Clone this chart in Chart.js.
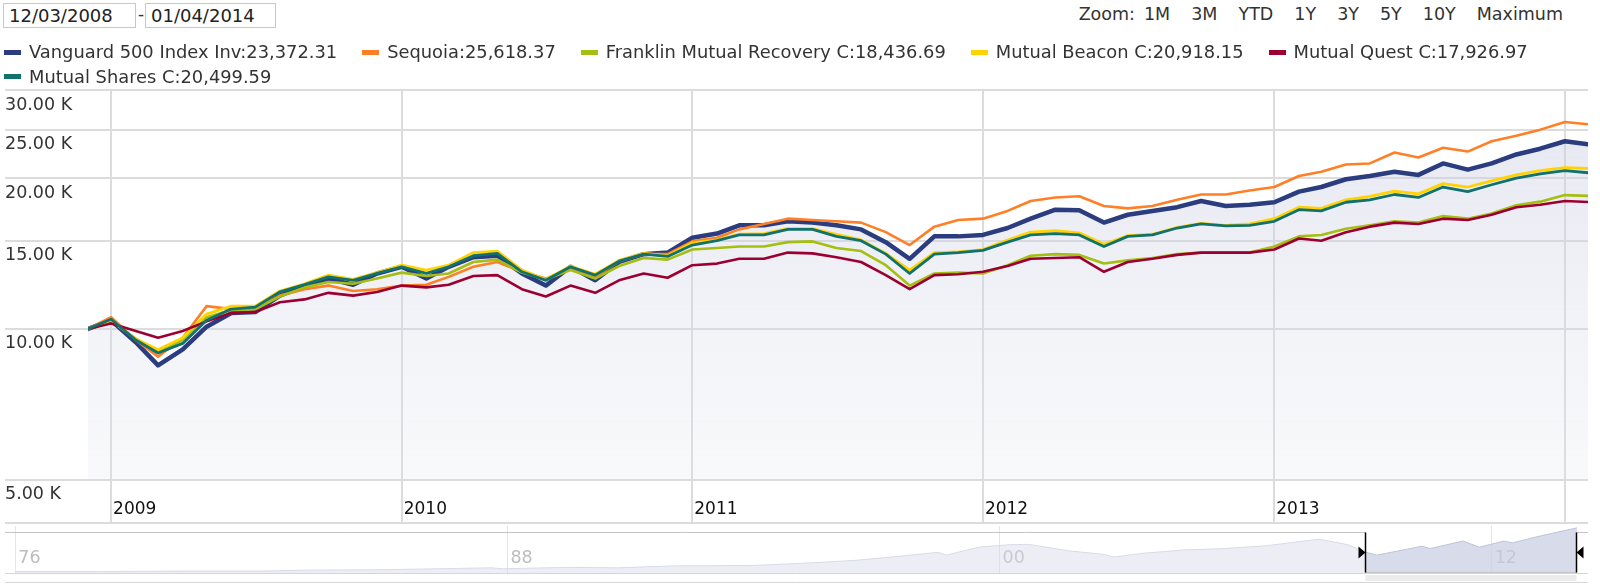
<!DOCTYPE html>
<html>
<head>
<meta charset="utf-8">
<title>Growth of 10,000</title>
<script src="https://cdn.jsdelivr.net/npm/chart.js"></script>
<style>
  html, body { margin: 0; padding: 0; background: #fff; }
  body { width: 1600px; height: 586px; position: relative; overflow: hidden;
         font-family: "DejaVu Sans", Verdana, sans-serif; color: #333; }
  .datebox { position: absolute; top: 3px; height: 25px; border: 1px solid #c8c8c8;
             box-sizing: border-box; font-size: 18px; line-height: 23px; padding-left: 5px; color: #222; }
  #dash { position: absolute; left: 138px; top: 3px; font-size: 17px; line-height: 22px; }
  #zoom { position: absolute; right: 37px; top: 3px; font-size: 17.5px; line-height: 22px;
          display: flex; gap: 21px; color: #333; }
  #zoom span:first-child { margin-right: -12px; }
  #legend { position: absolute; left: 4px; top: 40px; width: 1590px; font-size: 17.85px;
            line-height: 24.5px; display: flex; flex-wrap: wrap; column-gap: 25px; color: #333; z-index: 2; }
  .item { display: flex; align-items: center; white-space: nowrap; }
  .swatch { width: 17px; height: 5px; margin-right: 8px; }
  #main { position: absolute; left: 0; top: 0; }
  #axisBase { position: absolute; left: 5px; top: 522px; width: 1583px; height: 2px; background: #dcdcdc; }
  #nav { position: absolute; left: 0; top: 526px; }
</style>
</head>
<body>
<div class="datebox" style="left:3px;width:133px;">12/03/2008</div>
<div id="dash">-</div>
<div class="datebox" style="left:145px;width:131px;">01/04/2014</div>
<div id="zoom"><span>Zoom:</span><span>1M</span><span>3M</span><span>YTD</span><span>1Y</span><span>3Y</span><span>5Y</span><span>10Y</span><span>Maximum</span></div>
<div id="legend"></div>
<canvas id="main" width="1600" height="523"></canvas>
<div id="axisBase"></div>
<canvas id="nav" width="1600" height="58"></canvas>

<script>
// month points, growth of 10,000
const dates = [
  '2008-12-03',
  '2009-01-01','2009-02-01','2009-03-01','2009-04-01','2009-05-01','2009-06-01',
  '2009-07-01','2009-08-01','2009-09-01','2009-10-01','2009-11-01','2009-12-01',
  '2010-01-01','2010-02-01','2010-03-01','2010-04-01','2010-05-01','2010-06-01',
  '2010-07-01','2010-08-01','2010-09-01','2010-10-01','2010-11-01','2010-12-01',
  '2011-01-01','2011-02-01','2011-03-01','2011-04-01','2011-05-01','2011-06-01',
  '2011-07-01','2011-08-01','2011-09-01','2011-10-01','2011-11-01','2011-12-01',
  '2012-01-01','2012-02-01','2012-03-01','2012-04-01','2012-05-01','2012-06-01',
  '2012-07-01','2012-08-01','2012-09-01','2012-10-01','2012-11-01','2012-12-01',
  '2013-01-01','2013-02-01','2013-03-01','2013-04-01','2013-05-01','2013-06-01',
  '2013-07-01','2013-08-01','2013-09-01','2013-10-01','2013-11-01','2013-12-01',
  '2014-01-01','2014-01-30'
];

const vanguard = [10000,10400,9400,8450,9100,10100,10750,10800,11650,12200,12600,12250,12900,
  13300,12600,13300,13900,14000,12900,12200,13300,12500,13600,14100,14200,
  15200,15500,16100,16100,16400,16300,16100,15800,14900,13800,15300,15300,
  15400,15900,16600,17300,17250,16300,16900,17200,17500,18000,17600,17700,
  17900,18800,19200,19900,20200,20600,20300,21400,20800,21400,22300,22900,
  23700,23372.31];
const sequoia = [10000,10550,9500,8800,9600,11100,10950,10950,11650,12000,12200,11900,12000,
  12200,12250,12700,13300,13600,13000,12600,13200,12700,13650,14100,14100,
  14950,15200,15800,16200,16600,16500,16400,16300,15600,14700,16000,16500,
  16600,17200,18000,18300,18400,17600,17400,17600,18100,18550,18550,18900,
  19200,20200,20600,21300,21400,22500,22000,23000,22600,23700,24300,25000,
  25900,25618.37];
const franklin = [10000,10400,9550,9000,9500,10550,10900,10950,11600,12100,12400,12300,12600,
  12950,12750,12900,13600,13750,12950,12550,13100,12600,13350,13850,13750,
  14400,14500,14600,14600,14900,14950,14500,14300,13400,12200,12900,12950,
  12900,13400,14000,14100,14050,13500,13700,13850,14100,14200,14200,14200,
  14600,15300,15400,15850,16100,16400,16300,16800,16600,17000,17650,17950,
  18500,18436.69];
const beacon = [10000,10400,9550,9080,9600,10700,11100,11100,11900,12300,12800,12550,12950,
  13400,13100,13400,14200,14300,13100,12550,13350,12850,13700,14150,14000,
  14850,15050,15450,15500,15850,15850,15450,15050,14150,13100,14200,14250,
  14400,15050,15600,15700,15550,14750,15350,15450,15950,16250,16100,16200,
  16600,17500,17400,18100,18400,18850,18600,19500,19200,19750,20300,20700,
  21000,20918.15];
const quest = [10000,10250,9900,9600,9900,10350,10750,10800,11300,11450,11800,11650,11850,
  12200,12100,12250,12750,12800,12000,11600,12200,11800,12500,12900,12650,
  13400,13500,13800,13800,14200,14150,13900,13600,12800,12000,12800,12850,
  13000,13350,13800,13850,13900,13000,13600,13800,14050,14200,14200,14200,
  14400,15150,15000,15600,16000,16300,16200,16600,16500,16900,17500,17700,
  18000,17926.97];
const shares = [10000,10450,9500,8950,9350,10400,10950,11050,11850,12250,12700,12500,12900,
  13300,12900,13300,14000,14150,13000,12500,13300,12800,13650,14100,13950,
  14700,15000,15400,15400,15800,15800,15300,15000,14100,12900,14100,14200,
  14350,14900,15400,15500,15400,14600,15300,15400,15900,16200,16050,16100,
  16400,17300,17200,17900,18100,18550,18300,19200,18800,19400,20000,20400,
  20700,20499.59];

const seriesNames = ['Vanguard 500 Index Inv', 'Sequoia', 'Franklin Mutual Recovery C',
  'Mutual Beacon C', 'Mutual Quest C', 'Mutual Shares C'];
const seriesValues = [vanguard, sequoia, franklin, beacon, quest, shares];
const seriesColors = ['#2b3d7e', '#ff7f27', '#a4be12', '#ffd200', '#9c0031', '#11716d'];
const seriesWidths = [4.5, 2.6, 2.6, 2.8, 2.6, 2.8];

const yTicks = [5000, 10000, 15000, 20000, 25000, 30000];
const xTickYears = [2009, 2010, 2011, 2012, 2013, 2014];
const xTickLabels = ['2009', '2010', '2011', '2012', '2013', ''];

// navigator: whole history of the first fund, relative level
const navYears = [1976.0, 1978, 1980, 1982, 1983, 1985, 1987.6, 1987.9, 1989.5, 1990.7,
  1992, 1994, 1995.5, 1996.5, 1997.6, 1998.5, 1998.7, 1999.5, 2000.2, 2000.7,
  2001.7, 2002.5, 2002.8, 2003.5, 2004.5, 2005.5, 2006.5, 2007.8, 2008.5, 2008.9,
  2009.2, 2010.3, 2010.5, 2011.3, 2011.7, 2012.3, 2012.5, 2013.0, 2013.5, 2014.08];
const navLevels = [3, 3, 4, 4, 6, 7, 11, 9, 12, 11,
  15, 16, 22, 27, 36, 44, 38, 55, 60, 61,
  47, 40, 34, 42, 49, 52, 58, 72, 60, 45,
  38, 57, 52, 68, 55, 68, 64, 75, 85, 96];
const navTicks = [1976, 1988, 2000, 2012];
const navTickLabels = ['76', '88', '00', '12'];

const gridColor = '#dcdcdc';
const font = { family: '"DejaVu Sans", Verdana, sans-serif', size: 17.5 };

function toTime(s) { return Date.parse(s + 'T00:00:00Z'); }
function toYear(s) {
  const t = toTime(s), y = new Date(t).getUTCFullYear();
  return y + (t - Date.UTC(y, 0, 1)) / (Date.UTC(y + 1, 0, 1) - Date.UTC(y, 0, 1));
}
const rangeStart = toYear(dates[0]);
const rangeEnd = toYear(dates[dates.length - 1]);

// html legend with the last value of each series
const legend = document.getElementById('legend');
seriesNames.forEach((name, i) => {
  const vals = seriesValues[i];
  const last = vals[vals.length - 1].toLocaleString('en-US', { minimumFractionDigits: 2, maximumFractionDigits: 2 });
  const item = document.createElement('div');
  item.className = 'item';
  item.innerHTML = '<span class="swatch" style="background:' + seriesColors[i] + '"></span>' + name + ':' + last;
  legend.appendChild(item);
});

function areaFill(context) {
  const chart = context.chart;
  const area = chart.chartArea;
  if (!area) return 'rgba(220,222,234,0.4)';
  const g = chart.ctx.createLinearGradient(0, area.top, 0, area.bottom);
  g.addColorStop(0, 'rgba(196,200,222,0.45)');
  g.addColorStop(1, 'rgba(226,228,238,0.22)');
  return g;
}

const datasets = seriesNames.map((name, i) => ({
  label: name,
  data: seriesValues[i].map((v, j) => ({ x: toTime(dates[j]), y: v })),
  borderColor: seriesColors[i],
  borderWidth: seriesWidths[i],
  fill: i === 0 ? 'start' : false,
  backgroundColor: i === 0 ? areaFill : seriesColors[i],
  order: seriesNames.length - i
}));

new Chart(document.getElementById('main'), {
  type: 'line',
  data: { datasets: datasets },
  options: {
    responsive: false,
    animation: false,
    events: [],
    layout: { padding: { top: 90, left: 5, right: 12, bottom: 0 } },
    plugins: { legend: { display: false }, tooltip: { enabled: false } },
    elements: {
      point: { radius: 0 },
      line: { tension: 0, borderJoinStyle: 'round', borderCapStyle: 'round' }
    },
    scales: {
      x: {
        type: 'linear',
        min: toTime(dates[0]),
        max: toTime(dates[dates.length - 1]),
        afterBuildTicks: s => { s.ticks = xTickYears.map(y => ({ value: Date.UTC(y, 0, 1) })); },
        afterFit: s => { s.height = 43.5; },
        grid: { color: gridColor, lineWidth: 2, tickLength: 43.5 },
        border: { display: false },
        ticks: {
          align: 'start', padding: -24, labelOffset: 2, autoSkip: false, maxRotation: 0,
          color: '#111', font: { family: font.family, size: 17 },
          callback: (v, i) => xTickLabels[i]
        }
      },
      y: {
        type: 'logarithmic',
        min: 5000,
        max: 30000,
        afterBuildTicks: s => { s.ticks = yTicks.map(v => ({ value: v })); },
        afterFit: s => { s.width = 83; },
        grid: { color: gridColor, lineWidth: 2, tickLength: 83 },
        border: { display: false },
        ticks: {
          crossAlign: 'far', labelOffset: 15, padding: 0, color: '#333', font: font,
          callback: v => (v / 1000).toFixed(2) + ' K'
        }
      }
    }
  }
});

// navigator strip with the selected range and its scrollbar
const navFill = 'rgba(214,217,232,0.45)', navFillSel = 'rgba(200,204,224,0.7)';
const navLine = '#d7dae8', navLineSel = '#bfc3da';
const inRange = c => c.p0.parsed.x >= rangeStart - 0.05;

const navHandles = {
  id: 'navHandles',
  afterDatasetsDraw(chart) {
    const { ctx, chartArea: a, scales: { x } } = chart;
    const x0 = Math.round(x.getPixelForValue(rangeStart)) + 0.5;
    const x1 = Math.round(x.getPixelForValue(rangeEnd)) - 0.5;
    const outerRight = chart.width - 12;
    const top = a.top + 6.5, bot = a.bottom - 0.5, cy = (a.top + a.bottom) / 2 + 3;
    ctx.save();
    // scrollbar track and thumb
    ctx.fillStyle = '#ececec';
    ctx.fillRect(x0, a.bottom + 2, x1 - x0, 6);
    ctx.strokeStyle = '#d6d6d6';
    ctx.lineWidth = 1;
    ctx.beginPath();
    ctx.moveTo(a.left, a.bottom + 0.5); ctx.lineTo(outerRight, a.bottom + 0.5);
    ctx.moveTo(a.left, a.bottom + 9.5); ctx.lineTo(outerRight, a.bottom + 9.5);
    ctx.stroke();
    // outline
    ctx.strokeStyle = '#c4c4c4';
    ctx.beginPath();
    ctx.moveTo(a.left, top); ctx.lineTo(x0, top); ctx.lineTo(x0, bot);
    ctx.lineTo(x1, bot); ctx.lineTo(x1, top); ctx.lineTo(outerRight, top);
    ctx.stroke();
    // handles
    ctx.strokeStyle = '#000';
    ctx.lineWidth = 1.5;
    ctx.beginPath();
    ctx.moveTo(x0, top); ctx.lineTo(x0, bot);
    ctx.moveTo(x1, top); ctx.lineTo(x1, bot);
    ctx.stroke();
    ctx.fillStyle = '#000';
    ctx.beginPath();
    ctx.moveTo(x0 - 7, cy - 6); ctx.lineTo(x0, cy); ctx.lineTo(x0 - 7, cy + 6); ctx.closePath();
    ctx.moveTo(x1 + 7, cy - 6); ctx.lineTo(x1, cy); ctx.lineTo(x1 + 7, cy + 6); ctx.closePath();
    ctx.fill();
    ctx.restore();
  }
};

new Chart(document.getElementById('nav'), {
  type: 'line',
  data: {
    datasets: [{
      data: navYears.map((y, i) => ({ x: y, y: navLevels[i] })),
      borderColor: navLine,
      borderWidth: 1,
      backgroundColor: navFill,
      fill: 'start',
      segment: {
        backgroundColor: c => inRange(c) ? navFillSel : navFill,
        borderColor: c => inRange(c) ? navLineSel : navLine
      }
    }]
  },
  options: {
    responsive: false,
    animation: false,
    events: [],
    layout: { padding: { top: 0, left: 5, right: 23, bottom: 11 } },
    plugins: { legend: { display: false }, tooltip: { enabled: false } },
    elements: { point: { radius: 0 }, line: { tension: 0 } },
    scales: {
      x: {
        type: 'linear',
        min: 1975.75,
        max: rangeEnd,
        afterBuildTicks: s => { s.ticks = navTicks.map(v => ({ value: v })); },
        afterFit: s => {
          s.height = 0;
          // labels sit inside the strip, so do not clip them to the axis box
          s._computeLabelArea = () => undefined;
        },
        grid: { color: '#e6e6e6', lineWidth: 1, drawTicks: false },
        border: { display: false },
        ticks: {
          align: 'start', padding: -25, labelOffset: 3, autoSkip: false, maxRotation: 0,
          color: '#bdbdbd', font: { family: font.family, size: 17.5 },
          callback: (v, i) => navTickLabels[i]
        }
      },
      y: { display: false, min: 0, max: 100 }
    }
  },
  plugins: [navHandles]
});
</script>
</body>
</html>
